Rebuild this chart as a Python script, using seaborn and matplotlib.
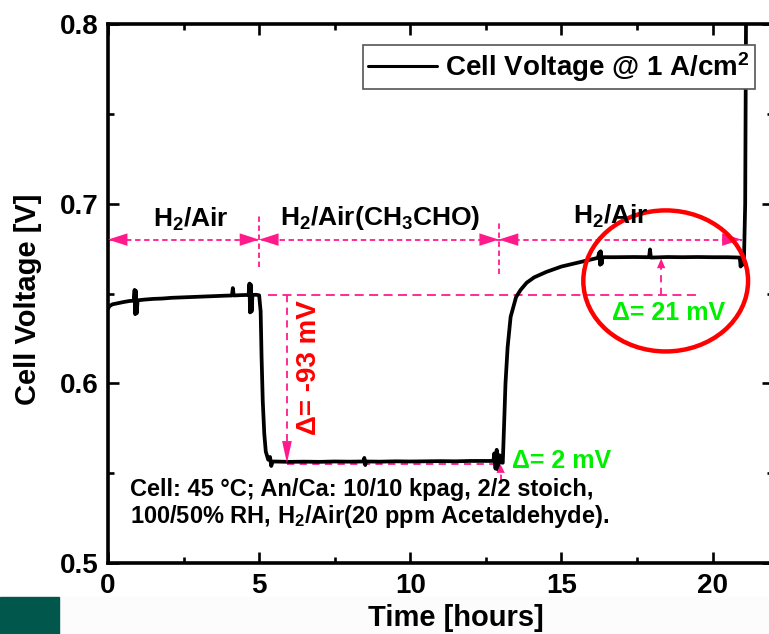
import matplotlib
matplotlib.use("Agg")
import matplotlib.pyplot as plt
import seaborn as sns
import pandas as pd
from matplotlib.patches import Ellipse, Rectangle
from matplotlib.ticker import AutoMinorLocator

# ---------------- data ----------------
time_h = [0.00, 0.05, 0.15, 0.30, 0.50, 0.70, 0.85, 0.88, 0.90, 0.92, 0.95, 0.98,
          1.20, 1.50, 1.80, 2.10, 2.40, 2.70, 3.00, 3.30, 3.60, 3.90, 4.10, 4.13,
          4.16, 4.40, 4.65, 4.68, 4.70, 4.72, 4.75, 4.78, 4.90, 5.00, 5.05, 5.08,
          5.12, 5.17, 5.22, 5.30, 5.36, 5.40, 5.45, 6.00, 6.50, 7.00, 7.50, 8.00,
          8.45, 8.48, 8.51, 8.54, 9.00, 9.50, 10.00, 10.50, 11.00, 11.50, 12.00,
          12.40, 12.75, 12.78, 12.82, 12.86, 12.90, 12.95, 13.00, 13.06, 13.10,
          13.15, 13.22, 13.32, 13.50, 13.65, 13.85, 14.10, 14.50, 15.00, 15.50,
          16.00, 16.20, 16.26, 16.28, 16.30, 16.33, 16.36, 16.80, 17.40, 17.90,
          17.93, 17.96, 18.50, 19.00, 19.50, 20.00, 20.50, 20.90, 20.93, 20.96,
          21.00, 21.04, 21.08, 21.12]
voltage_v = [0.6415, 0.6430, 0.6440, 0.6445, 0.6452, 0.6458, 0.6460, 0.6520, 0.6385,
             0.6515, 0.6390, 0.6462, 0.6466, 0.6470, 0.6472, 0.6476, 0.6478, 0.6480,
             0.6482, 0.6484, 0.6486, 0.6488, 0.6489, 0.6530, 0.6489, 0.6491, 0.6492,
             0.6555, 0.6395, 0.6550, 0.6400, 0.6492, 0.6493, 0.6490, 0.6400, 0.6150,
             0.5900, 0.5720, 0.5620, 0.5575, 0.5590, 0.5540, 0.5565, 0.5563, 0.5564,
             0.5563, 0.5565, 0.5564, 0.5565, 0.5585, 0.5545, 0.5565, 0.5564, 0.5566,
             0.5565, 0.5566, 0.5567, 0.5566, 0.5568, 0.5568, 0.5568, 0.5610, 0.5525,
             0.5630, 0.5520, 0.5600, 0.5560, 0.5558, 0.5750, 0.6000, 0.6200, 0.6370,
             0.6480, 0.6520, 0.6560, 0.6590, 0.6620, 0.6650, 0.6670, 0.6690, 0.6698,
             0.6730, 0.6660, 0.6735, 0.6665, 0.6702, 0.6702, 0.6703, 0.6702, 0.6745,
             0.6700, 0.6703, 0.6702, 0.6703, 0.6702, 0.6702, 0.6700, 0.6650, 0.6700,
             0.6660, 0.6690, 0.7000, 0.8500]

x_ticks = [0, 5, 10, 15, 20]
y_ticks = [0.5, 0.6, 0.7, 0.8]
y_tick_labels = ["0.5", "0.6", "0.7", "0.8"]

series_label = "Cell Voltage @ 1 A/cm$^2$"
phase_labels = ["H$_2$/Air", "H$_2$/Air(CH$_3$CHO)", "H$_2$/Air"]
phase_bounds = [0.0, 5.0, 12.93, 20.96]
note_text = ("Cell: 45 \u00b0C; An/Ca: 10/10 kpag, 2/2 stoich,\n"
             "100/50% RH, H$_2$/Air(20 ppm Acetaldehyde).")
delta_labels = ["\u0394= -93 mV", "\u0394= 2 mV", "\u0394= 21 mV"]

# ---------------- style ----------------
sns.set_theme(style="ticks")
plt.rcParams["font.family"] = ["Liberation Sans", "DejaVu Sans"]
plt.rcParams["font.weight"] = "bold"
plt.rcParams["text.color"] = "black"
plt.rcParams["axes.labelcolor"] = "black"
plt.rcParams["xtick.color"] = "black"
plt.rcParams["ytick.color"] = "black"
plt.rcParams["xtick.labelcolor"] = "black"
plt.rcParams["ytick.labelcolor"] = "black"
plt.rcParams["mathtext.fontset"] = "custom"
plt.rcParams["mathtext.rm"] = "Liberation Sans:bold"
plt.rcParams["mathtext.bf"] = "Liberation Sans:bold"
plt.rcParams["mathtext.it"] = "Liberation Sans:bold:italic"
plt.rcParams["mathtext.sf"] = "Liberation Sans:bold"

pink = "#ff1a8c"
green = "#00ee00"
red = "#ff0000"

W, H = 769, 634
fig = plt.figure(figsize=(W / 100, H / 100), dpi=100)
fig.patch.set_facecolor("white")
ax = fig.add_axes([108 / W, 1 - 563 / H, (773 - 108) / W, (563 - 24) / H])

# slide artefacts at the bottom
fig.add_artist(Rectangle((59 / W, 0), 1, 37 / H, transform=fig.transFigure,
                         color="#fcfcfc", zorder=-2))
fig.add_artist(Rectangle((0, 0), 59 / W, 37 / H, transform=fig.transFigure,
                         color="#01574c", zorder=-1))

df = pd.DataFrame({"time": time_h, "voltage": voltage_v})
sns.lineplot(data=df, x="time", y="voltage", ax=ax, color="black", lw=2.7,
             estimator=None, sort=False, label=series_label, zorder=4)

ax.set_xlim(0, 22)
ax.set_ylim(0.5, 0.8)
ax.set_xticks(x_ticks)
ax.set_xticklabels([str(t) for t in x_ticks])
ax.set_yticks(y_ticks)
ax.set_yticklabels(y_tick_labels)
ax.xaxis.set_minor_locator(AutoMinorLocator(2))
ax.yaxis.set_minor_locator(AutoMinorLocator(2))
ax.tick_params(which="both", direction="in", top=True, right=True, width=1.9,
               labelsize=20, pad=7, colors="black", labelcolor="black")
ax.tick_params(which="major", length=8)
ax.tick_params(which="minor", length=4.5)
for s in ax.spines.values():
    s.set_linewidth(2.6)
    s.set_color("black")
for lab in ax.get_xticklabels() + ax.get_yticklabels():
    lab.set_fontweight("bold")
    lab.set_color("black")

ax.set_xlabel("Time [hours]", fontsize=21, fontweight="bold", color="black")
ax.set_ylabel("Cell Voltage [V]", fontsize=21, fontweight="bold", color="black")
ax.xaxis.set_label_coords((456 - 108) / 665, (563 - 618) / 539)
ax.xaxis.label.set_va("center")
ax.yaxis.set_label_coords((28 - 108) / 665, (563 - 299) / 539)
ax.yaxis.label.set_va("center")

leg = ax.legend(loc="upper right", bbox_to_anchor=(755 / W, 1 - 45 / H),
                bbox_transform=fig.transFigure, frameon=True, fancybox=False,
                edgecolor="#555555", framealpha=1, fontsize=20, handlelength=2.5,
                borderpad=0.18, borderaxespad=0, handletextpad=0.3)
leg.get_frame().set_linewidth(1.2)
for t in leg.get_texts():
    t.set_fontweight("bold")
    t.set_color("black")
for ln in leg.get_lines():
    ln.set_linewidth(2.2)


def head(xt, yt, xs, ys, hl=1.4, hw=0.45):
    ax.annotate("", xy=(xt, yt), xytext=(xs, ys),
                arrowprops=dict(arrowstyle=f"-|>,head_length={hl},head_width={hw}",
                                color=pink, lw=0, shrinkA=0, shrinkB=0,
                                mutation_scale=10), zorder=5)


# phase arrows at 0.68
ax.plot([phase_bounds[0], phase_bounds[-1]], [0.68, 0.68], color=pink, lw=1.3,
        ls=(0, (3, 2)), zorder=2)
for a, b in zip(phase_bounds[:-1], phase_bounds[1:]):
    head(a, 0.68, a + 0.8, 0.68)
    head(b, 0.68, b - 0.8, 0.68)
for xb, y0, y1 in [(5.0, 0.665, 0.6937), (12.93, 0.661, 0.690)]:
    ax.plot([xb, xb], [y0, y1], color=pink, lw=1.3, ls=(0, (3, 2)), zorder=2)

# phase labels
for lab, xc, yb in zip(phase_labels, [2.75, 9.0, 16.63], [0.687, 0.688, 0.689]):
    ax.text(xc, yb, lab, ha="center", va="baseline", fontsize=19, fontweight="bold",
            color="black", zorder=6)

# reference dashed lines
ax.plot([5.29, 19.57], [0.649, 0.649], color=pink, lw=1.3, ls=(0, (5, 3)), zorder=2)
ax.plot([5.92, 12.95], [0.5553, 0.5553], color=pink, lw=1.3, ls=(0, (4, 3)), zorder=2)

# delta arrows
ax.plot([5.92, 5.92], [0.649, 0.566], color=pink, lw=1.3, ls=(0, (4, 3)), zorder=2)
head(5.92, 0.5555, 5.92, 0.575, hl=1.6, hw=0.35)
ax.plot([18.3, 18.3], [0.649, 0.666], color=pink, lw=1.3, ls=(0, (4, 3)), zorder=2)
head(18.3, 0.6695, 18.3, 0.663, hl=0.7, hw=0.3)
ax.plot([12.99, 12.99], [0.5463, 0.552], color=pink, lw=1.3, ls=(0, (3, 2)), zorder=2)
head(12.99, 0.5548, 12.99, 0.550, hl=0.6, hw=0.3)

ax.text(6.65, 0.6086, delta_labels[0], rotation=90, ha="center", va="center",
        fontsize=20, fontweight="bold", color=red, zorder=6)
ax.text(13.36, 0.5568, delta_labels[1], ha="left", va="center",
        fontsize=18, fontweight="bold", color=green, zorder=6)
ax.text(18.56, 0.6392, delta_labels[2], ha="center", va="center",
        fontsize=18, fontweight="bold", color=green, zorder=6)

ax.add_patch(Ellipse((18.45, 0.657), 5.45, 0.0785, fill=False, ec=red, lw=3.2,
                     zorder=5))

ax.text(0.73, 0.533, note_text, ha="left", va="center", fontsize=17,
        fontweight="bold", color="black", linespacing=1.1, zorder=6)

fig.savefig("out.png", dpi=100)
